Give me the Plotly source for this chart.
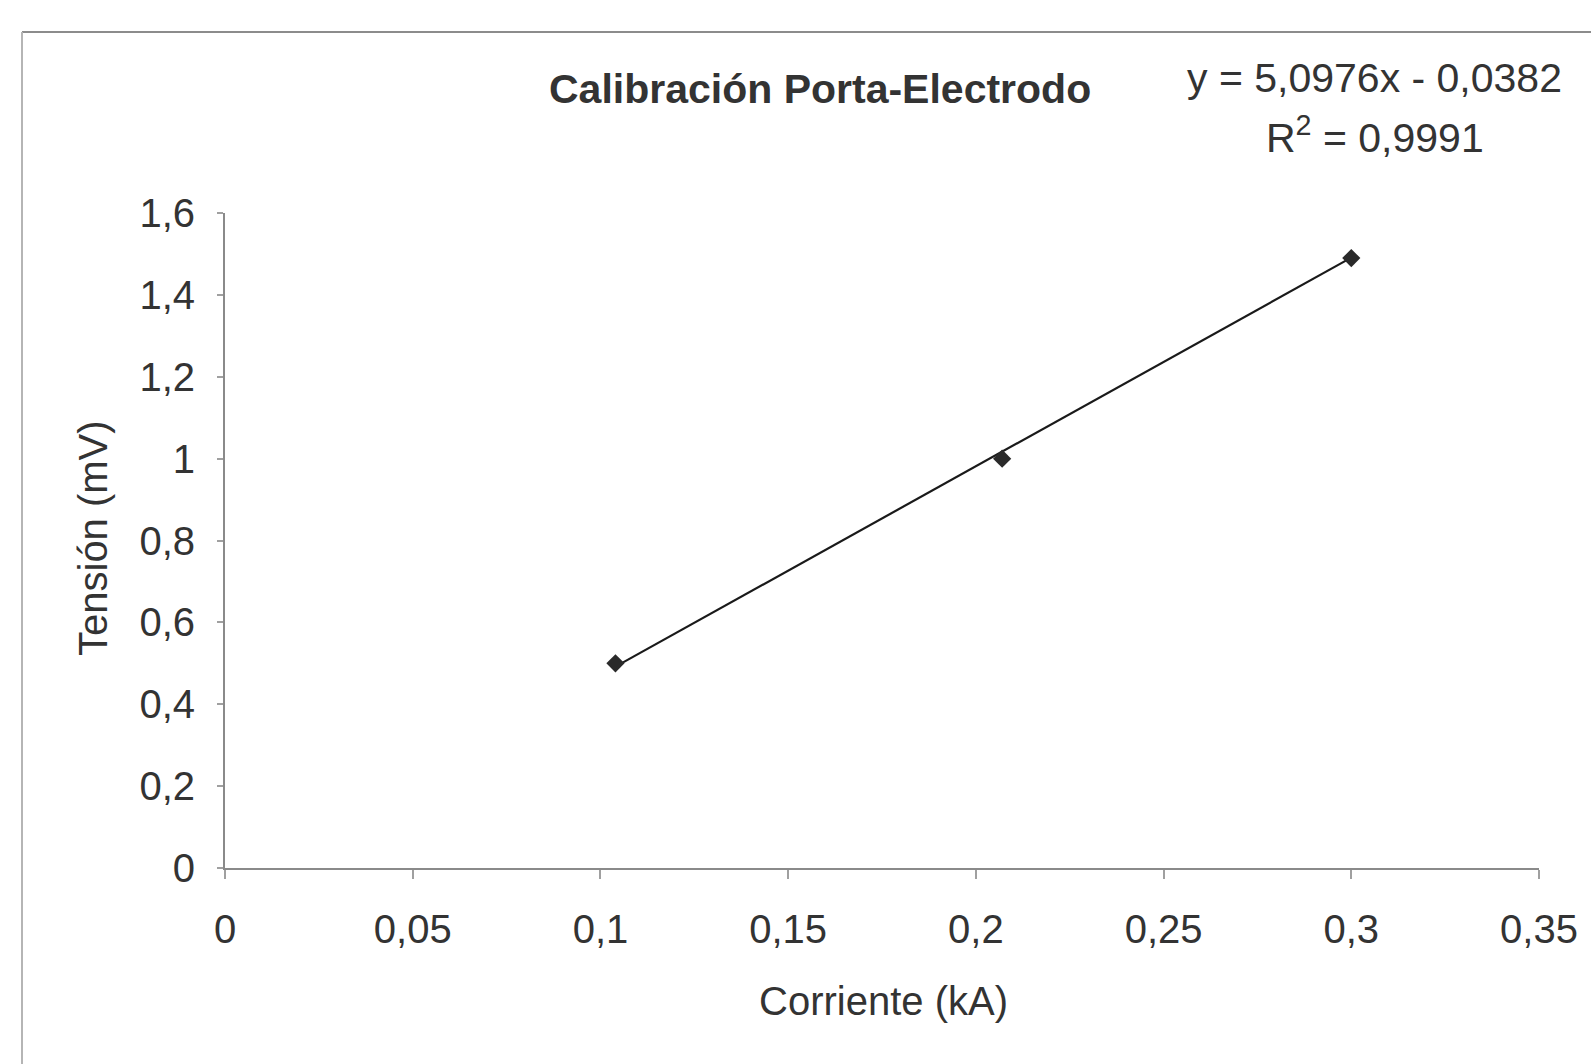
import plotly.graph_objects as go

# Calibration measurements: current (kA) vs voltage (mV)
corriente = [0.104, 0.207, 0.300]
tension = [0.50, 1.00, 1.49]

# Linear fit reported on the chart
pendiente = 5.0976
ordenada = -0.0382
r2 = 0.9991

x_ticks = [0, 0.05, 0.1, 0.15, 0.2, 0.25, 0.3, 0.35]
x_labels = ["0", "0,05", "0,1", "0,15", "0,2", "0,25", "0,3", "0,35"]
y_ticks = [0, 0.2, 0.4, 0.6, 0.8, 1.0, 1.2, 1.4, 1.6]
y_labels = ["0", "0,2", "0,4", "0,6", "0,8", "1", "1,2", "1,4", "1,6"]

FONT = "Liberation Sans, Arial, sans-serif"
TXT = "#333333"

x_fit = [min(corriente), max(corriente)]
y_fit = [pendiente * v + ordenada for v in x_fit]

fig = go.Figure()
fig.add_trace(go.Scatter(
    x=x_fit, y=y_fit, mode="lines",
    line=dict(color="#1a1a1a", width=2.2),
    showlegend=False, hoverinfo="skip",
))
fig.add_trace(go.Scatter(
    x=corriente, y=tension, mode="markers",
    marker=dict(symbol="diamond", size=14, color="#2a2a2a"),
    showlegend=False,
))

axis_common = dict(
    showgrid=False, zeroline=False, showline=True,
    linecolor="#8a8a8a", linewidth=2,
    ticks="outside", tickcolor="#a0a0a0", tickwidth=1.5,
    tickfont=dict(family=FONT, size=40, color=TXT),
)

fig.update_xaxes(range=[0, 0.35], tickvals=x_ticks, ticktext=x_labels,
                 ticklen=9, ticklabelstandoff=16, **axis_common)
fig.update_yaxes(range=[0, 1.6], tickvals=y_ticks, ticktext=y_labels,
                 ticklen=6, ticklabelstandoff=14, **axis_common)

annotations = [
    dict(text="<b>Calibración Porta-Electrodo</b>", x=(820 - 225) / 1314, y=(868 - 89) / 655,
         xref="paper", yref="paper", showarrow=False, xanchor="center", yanchor="middle",
         font=dict(family=FONT, size=41, color=TXT)),
    dict(text="y = " + f"{pendiente:.4f}".replace(".", ",") + "x - " + f"{abs(ordenada):.4f}".replace(".", ","),
         x=(1374 - 225) / 1314, y=(868 - 78) / 655,
         xref="paper", yref="paper", showarrow=False, xanchor="center", yanchor="middle",
         font=dict(family=FONT, size=41, color=TXT)),
    dict(text="R<sup>2</sup> = " + f"{r2:.4f}".replace(".", ","),
         x=(1375 - 225) / 1314, y=(868 - 135) / 655,
         xref="paper", yref="paper", showarrow=False, xanchor="center", yanchor="middle",
         font=dict(family=FONT, size=41, color=TXT)),
    dict(text="Tensión (mV)", x=(93 - 225) / 1314, y=(868 - 538) / 655, textangle=-90,
         xref="paper", yref="paper", showarrow=False, xanchor="center", yanchor="middle",
         font=dict(family=FONT, size=40, color=TXT)),
    dict(text="Corriente (kA)", x=(883 - 225) / 1314, y=(868 - 1001) / 655,
         xref="paper", yref="paper", showarrow=False, xanchor="center", yanchor="middle",
         font=dict(family=FONT, size=40, color=TXT)),
]

# Outer chart-area frame (left and top edges)
shapes = [
    dict(type="line", xref="paper", yref="paper",
         x0=(22 - 225) / 1314, x1=(1600 - 225) / 1314,
         y0=(868 - 32) / 655, y1=(868 - 32) / 655,
         line=dict(color="#8c8c8c", width=2)),
    dict(type="line", xref="paper", yref="paper",
         x0=(22 - 225) / 1314, x1=(22 - 225) / 1314,
         y0=(868 - 32) / 655, y1=(868 - 1070) / 655,
         line=dict(color="#b5b5b5", width=2)),
]

fig.update_layout(
    width=1591, height=1064,
    margin=dict(l=225, r=52, t=213, b=196),
    paper_bgcolor="white", plot_bgcolor="white",
    annotations=annotations, shapes=shapes,
    font=dict(family=FONT, color=TXT),
)

fig.write_html("out.html")
